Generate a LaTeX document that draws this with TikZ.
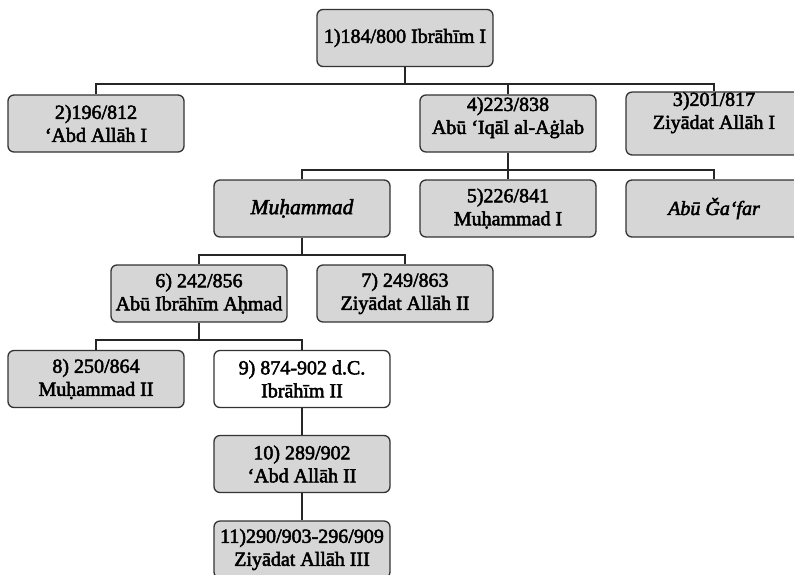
\documentclass[tikz,border=0pt]{standalone}
\usepackage{fontspec}
\setmainfont{Liberation Serif}[FakeBold=2.5]

\newcommand{\linkdown}[2]{
  \draw[link] (#1.south) -- ++(0,-17pt) -| (#2.north);
}

\begin{document}
\begin{tikzpicture}[x=1pt,y=-1pt]

\tikzstyle{ruler}=[draw=black!80,line width=1.3pt,fill=black!16,rounded corners=6pt,
  minimum width=176pt,minimum height=57pt,inner sep=0pt,align=center,
  font=\fontsize{20}{23}\selectfont]
\tikzstyle{heir}=[ruler,fill=white]
\tikzstyle{ancestor}=[ruler,font=\fontsize{#1}{23}\selectfont\itshape]
\tikzstyle{raised}=[text depth=#1]
\tikzstyle{link}=[line width=1.8pt,black!85]

\useasboundingbox (0,0) rectangle (794,574);

\node[ruler](r1) at (405,38) {1)184/800 Ibrāhīm I};

\node[ruler](r2) at (96,123.5) {2)196/812\\‘Abd Allāh I};
\node[ruler,raised=16pt](r4) at (508,123.5) {4)223/838\\Abū ‘Iqāl al-Aġlab};
\node[ruler,raised=26pt](r3) at (714,123.5) {3)201/817\\Ziyādat Allāh I};

\node[ancestor=21.5](muh) at (302,208.5) {Muḥammad};
\node[ruler](r5) at (508,208.5) {5)226/841\\Muḥammad I};
\node[ancestor=20](jafar) at (714,208.5) {Abū Ǧa‘far};

\node[ruler](r6) at (199,293.5) {6) 242/856\\Abū Ibrāhīm Aḥmad};
\node[ruler](r7) at (405,293.5) {7) 249/863\\Ziyādat Allāh II};

\node[ruler](r8) at (96,379) {8) 250/864\\Muḥammad II};
\node[heir](r9) at (302,379) {9) 874-902 d.C.\\Ibrāhīm II};

\node[ruler](r10) at (302,464) {10) 289/902\\‘Abd Allāh II};
\node[ruler](r11) at (302,549.5) {11)290/903-296/909\\Ziyādat Allāh III};

% branches
\linkdown{r1}{r2}
\linkdown{r1}{r4}
\linkdown{r1}{r3}
\linkdown{r4}{muh}
\linkdown{r4}{r5}
\linkdown{r4}{jafar}
\linkdown{muh}{r6}
\linkdown{muh}{r7}
\linkdown{r6}{r8}
\linkdown{r6}{r9}
\draw[link] (r9) -- (r10);
\draw[link] (r10) -- (r11);

\end{tikzpicture}
\end{document}
